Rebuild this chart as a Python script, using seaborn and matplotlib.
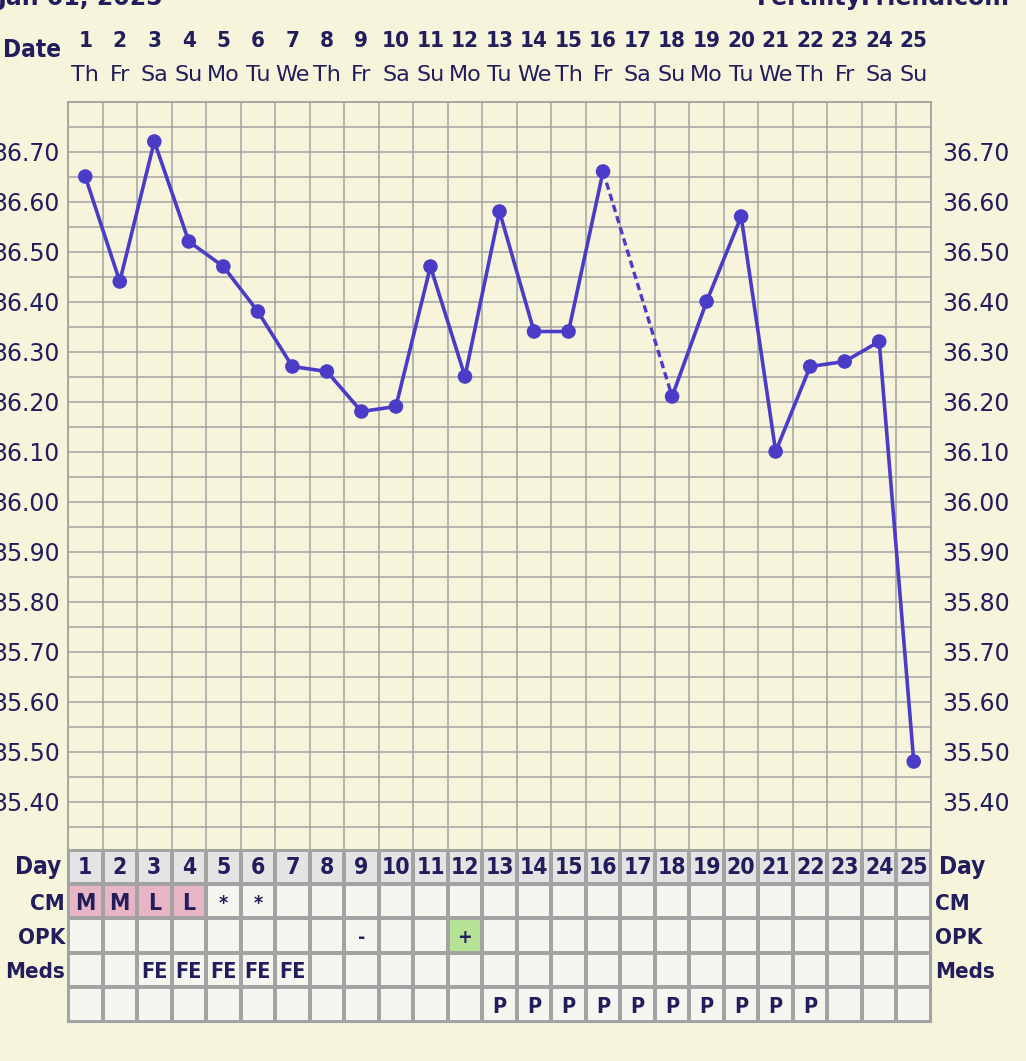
import numpy as np
import pandas as pd
import matplotlib
matplotlib.use("Agg")
import matplotlib.pyplot as plt
import seaborn as sns
from matplotlib.colors import ListedColormap
from matplotlib.transforms import blended_transform_factory

# ---------------- data ----------------
days = list(range(1, 26))
weekdays = ['Th', 'Fr', 'Sa', 'Su', 'Mo', 'Tu', 'We', 'Th', 'Fr', 'Sa', 'Su', 'Mo', 'Tu',
            'We', 'Th', 'Fr', 'Sa', 'Su', 'Mo', 'Tu', 'We', 'Th', 'Fr', 'Sa', 'Su']
temps = [36.65, 36.44, 36.72, 36.52, 36.47, 36.38, 36.27, 36.26, 36.18, 36.19, 36.47, 36.25,
         36.58, 36.34, 36.34, 36.66, np.nan, 36.21, 36.40, 36.57, 36.10, 36.27, 36.28, 36.32,
         35.48]
cm = ['M', 'M', 'L', 'L', '*', '*'] + [''] * 19
opk = [''] * 8 + ['-'] + ['', ''] + ['+'] + [''] * 13
meds = ['', '', 'FE', 'FE', 'FE', 'FE', 'FE'] + [''] * 18
extra = [''] * 12 + ['P'] * 10 + [''] * 3
ytick_vals = [35.40, 35.50, 35.60, 35.70, 35.80, 35.90, 36.00, 36.10, 36.20, 36.30,
              36.40, 36.50, 36.60, 36.70]
row_labels = ['Day', 'CM', 'OPK', 'Meds']
title_left = 'Jan 01, 2025'
title_right = 'FertilityFriend.com'

# ---------------- style ----------------
BG = '#F7F4DC'
GRID = '#A3A3A3'
LINE = '#4A3CC6'
NAVY = '#221D5C'
CELL = '#F6F6F0'
DAYROW = '#E4E4E4'
PINK = '#E8B5C5'
GREEN = '#B5E295'

sns.set_theme(style='white')
plt.rcParams['font.family'] = ['DejaVu Sans']

W, H = 1026, 1061
fig = plt.figure(figsize=(W / 100, H / 100), dpi=100, facecolor=BG)


def fx(px):
    return px / W


def fy(py):
    return 1 - py / H


L_PX, R_PX = 68, 931
ax = fig.add_axes([fx(L_PX), fy(851.5), fx(R_PX) - fx(L_PX), fy(101.5) - fy(851.5)])
ax_t = fig.add_axes([fx(L_PX), fy(1021.5), fx(R_PX) - fx(L_PX), fy(849.5) - fy(1021.5)])

# ---------------- main chart ----------------
ax.set_facecolor(BG)
df = pd.DataFrame({'day': days, 'temp': temps})
df['segment'] = df['temp'].isna().cumsum()
valid = df.dropna()

sns.lineplot(data=valid, x='day', y='temp', units='segment', estimator=None,
             color=LINE, lw=2.6, ax=ax, legend=False, zorder=3)

# dashed bridge across missing days
miss = df.index[df['temp'].isna()]
for m in miss:
    prev_i = df.loc[:m - 1, 'temp'].last_valid_index()
    next_i = df.loc[m + 1:, 'temp'].first_valid_index()
    if prev_i is not None and next_i is not None:
        bridge = df.loc[[prev_i, next_i]]
        sns.lineplot(data=bridge, x='day', y='temp', estimator=None, color=LINE,
                     lw=2.4, linestyle=(0, (2.2, 1.3)), ax=ax, legend=False, zorder=3)

sns.scatterplot(data=valid, x='day', y='temp', color=LINE, s=110, edgecolor='none',
                ax=ax, legend=False, zorder=4)

ax.set_xlim(0.5, 25.5)
ax.set_ylim(35.30, 36.80)
ax.set_xticks(np.arange(0.5, 25.6, 1.0))
ax.set_xticklabels([])
ax.set_yticks(ytick_vals)
ax.set_yticks(np.arange(35.30, 36.801, 0.05), minor=True)
ax.set_yticklabels([f'{v:.2f}' for v in ytick_vals])
ax.grid(True, which='both', axis='both', color=GRID, lw=1.1)
ax.tick_params(axis='both', which='both', length=0)
ax.tick_params(axis='y', labelsize=17, labelcolor=NAVY, pad=5.8)
ax.set_xlabel('')
ax.set_ylabel('')
for sp in ax.spines.values():
    sp.set_visible(True)
    sp.set_color(GRID)
    sp.set_linewidth(1.3)

ax2 = ax.twinx()
ax2.set_ylim(ax.get_ylim())
ax2.set_yticks(ytick_vals)
ax2.set_yticklabels([f'{v:.2f}' for v in ytick_vals])
ax2.tick_params(axis='y', length=0, labelsize=17, labelcolor=NAVY, pad=8)
ax2.grid(False)
for sp in ax2.spines.values():
    sp.set_visible(False)

# header: dates and weekdays
trans_top = blended_transform_factory(ax.transData, fig.transFigure)
for d, wd in zip(days, weekdays):
    ax.text(d, fy(47), str(d), transform=trans_top, ha='center', va='baseline',
            fontsize=16, fontweight='bold', fontstretch='condensed', color=NAVY)
    ax.text(d, fy(81), wd, transform=trans_top, ha='center', va='baseline',
            fontsize=16, color=NAVY)
fig.text(fx(61), fy(57), 'Date', ha='right', va='baseline', fontsize=17.5,
         fontweight='bold', fontstretch='condensed', color=NAVY)

# clipped title line at the very top
fig.text(fx(163), fy(5), title_left, ha='right', va='baseline', fontsize=17,
         fontweight='bold', color=NAVY)
fig.text(fx(1010), fy(5), title_right, ha='right', va='baseline', fontsize=17,
         fontweight='bold', color=NAVY)

# ---------------- table ----------------
codes = np.zeros((5, 25), dtype=int)
codes[0, :] = 1
for j, v in enumerate(cm):
    if v in ('M', 'L'):
        codes[1, j] = 2
for j, v in enumerate(opk):
    if v == '+':
        codes[2, j] = 3
cmap = ListedColormap([CELL, DAYROW, PINK, GREEN])
sns.heatmap(codes, cmap=cmap, vmin=0, vmax=3, cbar=False, linewidths=1.5,
            linecolor=GRID, ax=ax_t, xticklabels=False, yticklabels=False)
for sp in ax_t.spines.values():
    sp.set_visible(True)
    sp.set_color(GRID)
    sp.set_linewidth(1.5)

trans_tab = blended_transform_factory(ax_t.transData, fig.transFigure)
rows = [[str(d) for d in days], cm, opk, meds, extra]
baselines = [874, 910, 944, 978, 1013]
sizes = [16.5, 16.5, 15, 15.5, 15.5]
for r, (vals, base, sz) in enumerate(zip(rows, baselines, sizes)):
    for j, v in enumerate(vals):
        if not v:
            continue
        yb = base
        s = sz
        if v == '*':
            yb = base - 1
            s = 14
        if v in ('-', '+'):
            yb = base - 1
            s = 14
        ax_t.text(j + 0.5, fy(yb), v, transform=trans_tab, ha='center', va='baseline',
                  fontsize=s, fontweight='bold', fontstretch='condensed', color=NAVY)

# row labels left and right
lab_sizes = [17.5, 16, 16, 16]
for lab, base, s in zip(row_labels, baselines, lab_sizes):
    fig.text(fx(65 if lab != 'Day' else 61), fy(base), lab, ha='right', va='baseline',
             fontsize=s, fontweight='bold', fontstretch='condensed', color=NAVY)
    fig.text(fx(939 if lab == 'Day' else 935), fy(base), lab, ha='left', va='baseline',
             fontsize=s, fontweight='bold', fontstretch='condensed', color=NAVY)

fig.savefig('out.png', dpi=100, facecolor=BG)
